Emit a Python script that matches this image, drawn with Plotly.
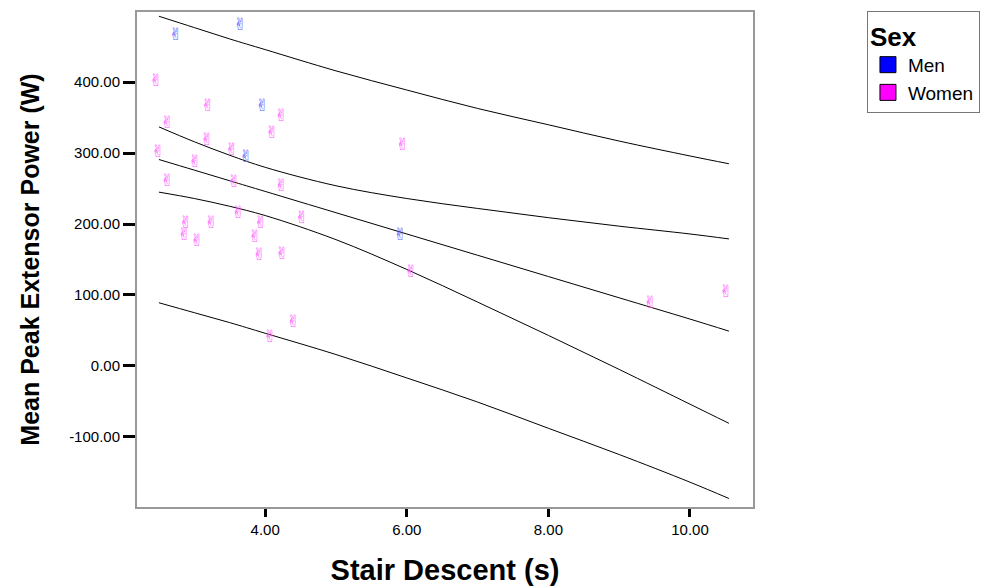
import plotly.graph_objects as go

# ---- data ----
men_x = [2.74, 3.65, 3.96, 3.73, 5.91]
men_y = [466, 480, 366, 294, 183]

women_x = [2.46, 2.62, 2.49, 2.62, 2.88, 2.86, 3.04, 3.01, 3.19, 3.18, 3.24, 3.53, 3.56,
           3.62, 3.86, 3.92, 3.94, 4.10, 4.23, 4.23, 4.24, 4.07, 4.40, 4.52, 5.94, 6.06,
           9.44, 10.51]
women_y = [400, 342, 301, 259, 201, 183, 175, 286, 365, 318, 201, 303, 258,
           214, 180, 155, 201, 327, 352, 252, 156, 39, 61, 207, 310, 131,
           87, 103]

line_x = [2.5, 3, 3.5, 4, 5, 6, 7, 8, 9, 10, 10.55]
pred_upper = [493, 477, 461, 446, 416, 389, 363, 340, 317, 296, 285]
ci_upper = [337, 316, 297, 280, 254, 236, 222, 209, 197, 186, 179]
fit_line = [291, 276, 261, 246, 216, 186, 156, 126, 96, 66, 49]
ci_lower = [245, 236, 225, 212, 178, 136, 90, 43, -5, -54, -81]
pred_lower = [89, 75, 61, 46, 16, -17, -51, -88, -125, -164, -187]

x_ticks = [4, 6, 8, 10]
y_ticks = [-100, 0, 100, 200, 300, 400]

MEN_COLOR = "#0000ff"
WOMEN_COLOR = "#ff00ff"
GLYPH = "\u270C"

fig = go.Figure()

for ys in [pred_upper, ci_upper, fit_line, ci_lower, pred_lower]:
    fig.add_trace(go.Scatter(x=line_x, y=ys, mode="lines",
                             line=dict(color="black", width=1, shape="spline", smoothing=1.0),
                             showlegend=False, hoverinfo="skip"))

fig.add_trace(go.Scatter(x=men_x, y=men_y, mode="text", text=[GLYPH] * len(men_x),
                         textfont=dict(family="DejaVu Sans", size=17, color="#5c5cff"),
                         showlegend=False, name="Men"))
fig.add_trace(go.Scatter(x=women_x, y=women_y, mode="text", text=[GLYPH] * len(women_x),
                         textfont=dict(family="DejaVu Sans", size=17, color="#ff55ff"),
                         showlegend=False, name="Women"))

# legend entries
fig.add_trace(go.Scatter(x=[None], y=[None], mode="markers", name="Men",
                         marker=dict(symbol="square", size=22, color=MEN_COLOR,
                                     line=dict(color="black", width=1))))
fig.add_trace(go.Scatter(x=[None], y=[None], mode="markers", name="Women",
                         marker=dict(symbol="square", size=22, color=WOMEN_COLOR,
                                     line=dict(color="black", width=1))))

axis_common = dict(showgrid=False, zeroline=False, showline=True, mirror=True,
                   linecolor="#999999", linewidth=2, ticks="outside",
                   tickcolor="black", tickwidth=3, automargin=False,
                   tickfont=dict(family="Liberation Sans", size=15, color="black"))

# page body has an 8px margin, so the figure is sized to fit the window
fig.update_layout(
    width=994, height=578,
    margin=dict(l=129, r=249, t=4, b=79, autoexpand=False),
    paper_bgcolor="white", plot_bgcolor="white",
    xaxis=dict(range=[2.19, 10.89], tickvals=x_ticks,
               ticktext=[f"{v:.2f}" for v in x_ticks], ticklen=8,
               title=dict(text="<b>Stair Descent (s)</b>", standoff=24,
                          font=dict(family="Liberation Sans", size=29, color="black")),
               **axis_common),
    yaxis=dict(range=[-199, 499], tickvals=y_ticks,
               ticktext=[f"{v:.2f}" for v in y_ticks], ticklen=12,
               title=dict(text="<b>Mean Peak Extensor Power (W)</b>", standoff=22,
                          font=dict(family="Liberation Sans", size=25, color="black")),
               **axis_common),
    legend=dict(x=1.185, y=1.002, xanchor="left", yanchor="top",
                bordercolor="#777777", borderwidth=1, bgcolor="white",
                font=dict(family="Liberation Sans", size=19, color="black"),
                title=dict(text="<b>Sex</b>",
                           font=dict(family="Liberation Sans", size=26, color="black")),
                tracegroupgap=0, itemsizing="trace", entrywidth=112),
)

fig.write_html("out.html")
